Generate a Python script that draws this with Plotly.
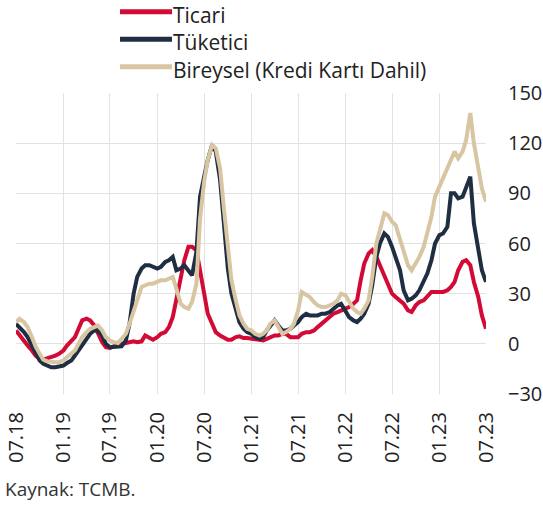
import pandas as pd
import plotly.graph_objs as go

# yarım aylık tarihler (07.18 - 07.23)
dates = pd.date_range("2018-07-01", "2023-07-01", freq="SMS")

ticari = [8, 5, 2, -1, -4, -7, -9, -9.5, -8.5, -8, -7, -6, -4, -1, 1.5, 4, 9, 14, 15, 14,
          11, 6, 1, -2, -2.5, -1.5, -0.5, 0, 0.5, 1, 1.5, 1, 1.5, 5, 4, 2.5, 4, 6, 7, 10,
          16, 26, 38, 50, 58, 58, 56, 44, 30, 18, 12, 7, 5, 3.5, 2.5, 2.5, 4, 4.5, 3.5, 3.5,
          3, 2.5, 2, 2, 3, 4, 5, 5, 6, 6, 4, 4, 4, 6, 7, 7, 8, 10, 12, 14,
          16, 18, 19, 20, 21, 22, 24, 26, 38, 48, 54, 56, 52, 47, 41, 36, 30, 28, 26, 24,
          20, 19, 23, 25, 26, 28, 31, 31, 31, 31, 32, 34, 37, 44, 49, 50, 47, 37, 28, 17, 9]

tuketici = [12, 10, 7, 4, -1, -6, -10, -12, -13, -14, -14, -13.5, -13, -11.5, -10, -7, -4, -1, 3, 6,
            8, 8, 5, 0, -2, -2, -2, -1.5, 2, 12, 30, 40, 45, 47, 47, 46, 45, 46, 49, 50,
            52, 44, 45, 47, 44, 41, 55, 88, 100, 110, 119, 115, 98, 70, 45, 30, 20, 13, 9, 7,
            6, 4, 3, 4, 8, 11, 14, 11, 8, 8, 9, 11, 13, 16, 18, 17, 17, 17, 18, 18,
            19, 21, 23, 24, 20, 16, 14, 13, 15, 18, 24, 35, 52, 60, 66, 64, 58, 52, 44, 32,
            26, 27, 29, 32, 37, 42, 50, 60, 65, 66, 70, 90, 90, 87, 88, 93, 100, 72, 55, 44, 37]

bireysel = [13, 15, 13, 10, 4, -1.5, -6, -9.5, -10.5, -11, -11, -11, -10, -8, -6, -4, 0, 4, 7, 9,
            10, 11, 8, 4, 2, 1, 0.5, 3, 6, 12, 20, 27, 34, 35, 36, 36, 37, 38, 38, 39,
            40, 33, 24, 22, 21, 25, 36, 75, 97, 110, 119, 117, 105, 82, 58, 38, 26, 17, 12, 9,
            8, 6, 5, 6, 8, 12, 14, 10, 6, 7, 9, 12, 20, 31, 29, 28, 25, 23, 22, 22,
            23, 24, 26, 30, 29, 25, 21, 19, 18, 21, 26, 40, 60, 68, 78, 77, 73, 71, 62, 54,
            47, 44, 48, 52, 58, 66, 76, 88, 94, 100, 106, 110, 115, 111, 115, 122, 138, 120, 104, 93, 85]

series = [("Ticari", ticari, "#d20a35"),
          ("Tüketici", tuketici, "#1f2e43"),
          ("Bireysel (Kredi Kartı Dahil)", bireysel, "#d8c5a2")]

y_ticks = [-30, 0, 30, 60, 90, 120, 150]
x_ticks = pd.date_range("2018-07-01", "2023-07-01", freq="6MS")

FONT = "Open Sans"


def draw_picture():
    fig = go.Figure()
    shapes, annotations = [], []
    # lejant: çizgiler + tek bir çok satırlı metin (grafiğin üstünde)
    legend_y = [1.2701, 1.1784, 1.0874]
    for (name, vals, color), ly in zip(series, legend_y):
        fig.add_trace(go.Scatter(x=dates, y=vals, name=name, mode="lines",
                                 line=dict(color=color, width=4)))
        shapes.append(dict(type="line", xref="paper", yref="paper",
                           x0=0.2213, x1=0.3319, y0=ly, y1=ly,
                           line=dict(color=color, width=5)))
    annotations.append(dict(text="<br>".join(s[0] for s in series),
                            x=0.3319, y=1.309, xref="paper", yref="paper",
                            xanchor="left", yanchor="top", align="left",
                            showarrow=False, borderpad=0,
                            font=dict(size=21, color="#222222")))

    annotations.append(dict(text="Kaynak: TCMB.", x=0, y=0, xref="paper", yref="paper",
                            xshift=-13, yshift=-95, xanchor="left", yanchor="middle",
                            showarrow=False, font=dict(size=19, color="#333333")))

    fig.update_layout(
        width=543, height=514,
        margin=dict(l=16, r=57, t=93, b=120, autoexpand=False),
        paper_bgcolor="white", plot_bgcolor="white",
        font=dict(family=FONT, size=20, color="#222222"),
        showlegend=False,
        shapes=shapes,
        annotations=annotations,
    )
    fig.update_xaxes(range=[x_ticks[0], x_ticks[-1]], tickvals=x_ticks,
                     tickformat="%m.%y", tickangle=-90, showgrid=True,
                     gridcolor="#e2e2e2", gridwidth=1, zeroline=False, ticks="",
                     showline=False, automargin=False, tickfont=dict(size=20),
                     ticklabelstandoff=13)
    fig.update_yaxes(range=[-30, 150], tickvals=y_ticks, side="right",
                     showgrid=True, gridcolor="#e2e2e2", gridwidth=1,
                     zeroline=False, ticks="", showline=False, automargin=False,
                     ticklabelstandoff=21, tickfont=dict(size=20))
    # sayfa kenar boşluğunu kaldır
    fig.write_html("out.html", config={"displayModeBar": False},
                   post_script="document.body.style.margin='0';")


if __name__ == "__main__":
    draw_picture()
